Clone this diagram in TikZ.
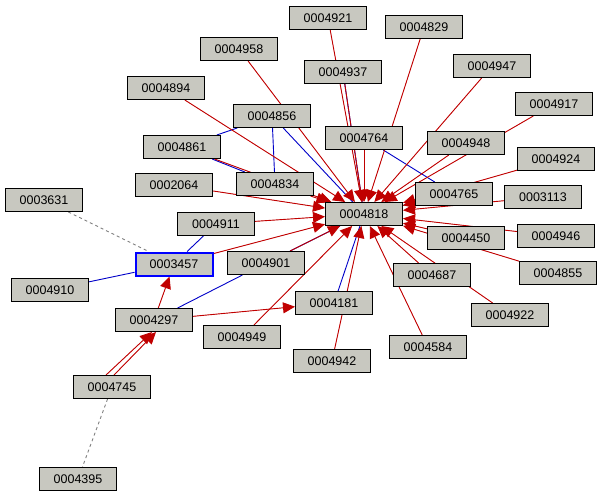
\documentclass[tikz,border=0pt]{standalone}
\usepackage{fontspec}
\setmainfont{Liberation Sans}
\usetikzlibrary{arrows.meta}
\pgfdeclarelayer{bg}\pgfsetlayers{bg,main}
\begin{document}
\begin{tikzpicture}[x=1pt,y=-1pt,
 n/.style={draw=black,fill={rgb,255:red,200;green,200;blue,192},line width=1pt,minimum width=77pt,minimum height=23pt,inner sep=0pt,font=\fontsize{12.5pt}{14pt}\selectfont},
 r/.style={draw={rgb,255:red,192;green,0;blue,0},line width=0.9pt,-{Triangle[length=12pt,width=11pt]},fill={rgb,255:red,192;green,0;blue,0}},
 b/.style={draw={rgb,255:red,0;green,0;blue,200},line width=0.9pt},
 g/.style={draw=gray,dashed,line width=0.9pt}]
\useasboundingbox (0,0) rectangle (604,499);
\foreach \nm/\x/\y in {4921/328/18,4829/424/27,4958/239/49,4937/343/72,4947/492/66,4894/166/88,4917/554/104,4856/272/116,4764/364/138,4948/466/143,4861/182/147,4924/556/159,2064/174/185,4834/275/184,4765/454/194,3113/543/197,4818/364/214,4911/216/224,4450/466/238,4946/556/236,4901/266/263,4855/558/273,4687/432/275,4910/50/290,4181/334/303,4297/154/320,4922/510/315,4949/242/337,4584/428/347,4942/332/361,4745/112/387}
  \node[n] (n\nm) at (\x,\y) {000\nm};
\node[n] (n3631) at (44,200) {0003631};
\node[n] (n4395) at (78,479) {0004395};
\node[n,draw=blue,line width=2pt] (n3457) at (174,264) {0003457};
\begin{pgfonlayer}{bg}
\draw[b] (n4856)--(n4861); \draw[b] (n4856)--(n4834); \draw[b] (n4856)--(n4818);
\draw[b] (n4861)--(n4834); \draw[b] (n4937)--(n4818); \draw[b] (n4764)--(n4765);
\draw[b] (n4911)--(n3457); \draw[b] (n3457)--(n4910); \draw[b] (n4297)--(n4901);
\draw[b] (n4181)--(n4818); \draw[b] (n4901)--(n4818); \draw[black,line width=0.8pt] (n4765)--(n4818);
\draw[g] (n3631)--(n3457); \draw[g] (n4745)--(n4395);
\foreach \s in {4921,4829,4958,4937,4947,4894,4917,4764,4948,4861,4924,2064,4834,4765,3113,4911,4450,4946,4855,4687,4922,4584,4942,4949,3457,4901}
  \draw[r] (n\s)--(n4818);
\draw[r] (n4297)--(n4181); \draw[r] (n4297)--(n3457);
\draw[r] ([xshift=-6pt]n4745.north)--([xshift=-2pt]n4297.south);
\draw[r] ([xshift=2pt]n4745.north)--([xshift=2pt]n4297.south);
\end{pgfonlayer}
\end{tikzpicture}
\end{document}
